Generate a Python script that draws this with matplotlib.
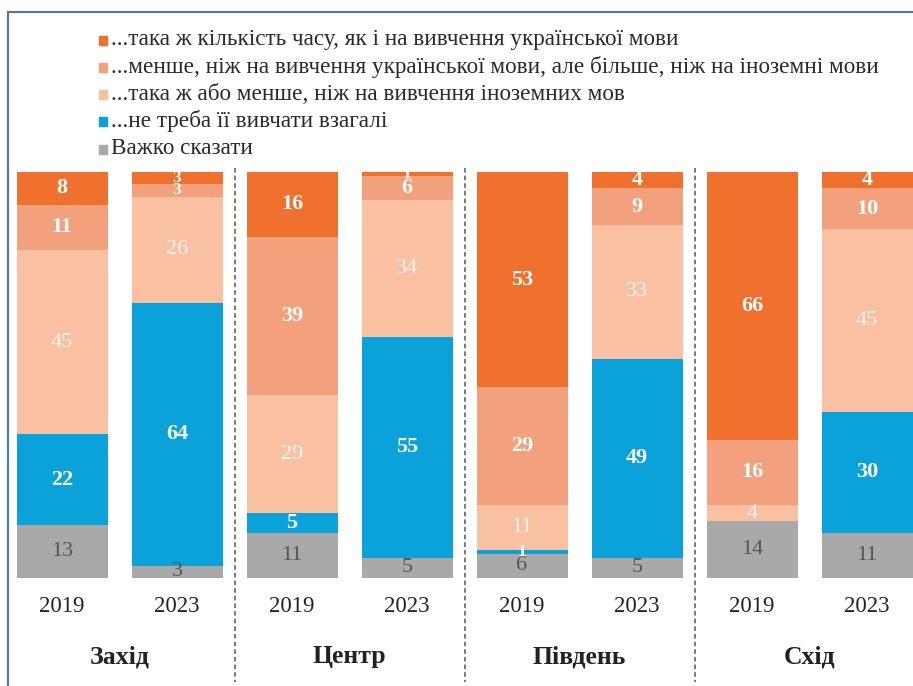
import matplotlib.pyplot as plt
from matplotlib.patches import Rectangle
import numpy as np

plt.rcParams['font.family'] = ['Liberation Serif', 'DejaVu Serif']

regions = ['Захід', 'Центр', 'Південь', 'Схід']
years = ['2019', '2023']

legend_labels = [
    '...така ж кількість часу, як і на вивчення української мови',
    '...менше, ніж на вивчення української мови, але більше, ніж на іноземні мови',
    '...така ж або менше, ніж на вивчення іноземних мов',
    '...не треба її вивчати взагалі',
    'Важко сказати',
]

# one value per bar, in order: Захід 2019, Захід 2023, Центр 2019, ... Схід 2023
same_time = [8, 3, 16, 1, 53, 4, 66, 4]
less_than_ukr = [11, 3, 39, 6, 29, 9, 16, 10]
less_foreign = [45, 26, 29, 34, 11, 33, 4, 45]
not_needed = [22, 64, 5, 55, 1, 49, 0, 30]
hard_to_say = [13, 3, 11, 5, 6, 5, 14, 11]

series = [same_time, less_than_ukr, less_foreign, not_needed, hard_to_say]
colors = ['#F0702E', '#F3A07C', '#F9C0A2', '#0AA2D9', '#A9A9A9']
txt_colors = ['white', 'white', '#FFF4EE', 'white', '#555555']
txt_weight = ['bold', 'bold', 'normal', 'bold', 'normal']

W, H = 913, 686
fig = plt.figure(figsize=(W / 100, H / 100), dpi=100)

# axes spans the bar area: bars from y=172 px to y=578 px
ax = fig.add_axes([0, (H - 578) / H, 1, 406 / H])
x = np.arange(8)
ax.set_xlim(-62 / 115, (W - 62) / 115)
ax.set_ylim(0, 100)
ax.axis('off')

data = np.array(series, dtype=float)
totals = data.sum(axis=0)
pct = data / totals * 100

# stack from the bottom: gray first, dark orange on top
top = np.full(8, 100.0)
for k in range(5):
    h = pct[k]
    bottom = top - h
    ax.bar(x, h, bottom=bottom, width=91 / 115, color=colors[k], linewidth=0)
    for i in range(8):
        v = data[k, i]
        if v > 0:
            small = v <= 3 and k < 4
            ax.text(x[i], bottom[i] + h[i] / 2, f'{int(v)}',
                    ha='center', va='center', fontsize=12.5 if small else 16,
                    color=txt_colors[k], fontweight=txt_weight[k])
    top = bottom

trans = ax.get_xaxis_transform()
for i in range(8):
    ax.text(x[i], (578 - 606) / 406, years[i % 2], transform=trans,
            ha='center', va='center', fontsize=16.5, color='#222222', clip_on=False)
for j, r in enumerate(regions):
    ax.text(2 * j + 0.5, (578 - 657) / 406, r, transform=trans,
            ha='center', va='center', fontsize=18.5, fontweight='bold',
            color='#222222', clip_on=False)
for d in [1.5, 3.5, 5.5]:
    ax.plot([d, d], [(578 - 168) / 406, (578 - 682) / 406], transform=trans,
            color='#555555', linestyle=(0, (3, 2)), linewidth=1.1, clip_on=False)

# legend
rows = [40, 67, 94, 121, 149]
for k in range(5):
    y = 1 - rows[k] / H
    fig.patches.append(Rectangle((99 / W, y - 4.5 / H), 8 / W, 9 / H,
                                 transform=fig.transFigure, color=colors[k]))
    fig.text(111 / W, y, legend_labels[k], ha='left', va='center',
             fontsize=16.7, color='#2a2a2a')

# frame around the picture
fig.patches.append(Rectangle((8 / W, -0.01), 1.02, 1 - 12 / H + 0.01,
                             transform=fig.transFigure, fill=False,
                             edgecolor='#4F74A8', linewidth=1.5))

fig.savefig('out.png', dpi=100)
